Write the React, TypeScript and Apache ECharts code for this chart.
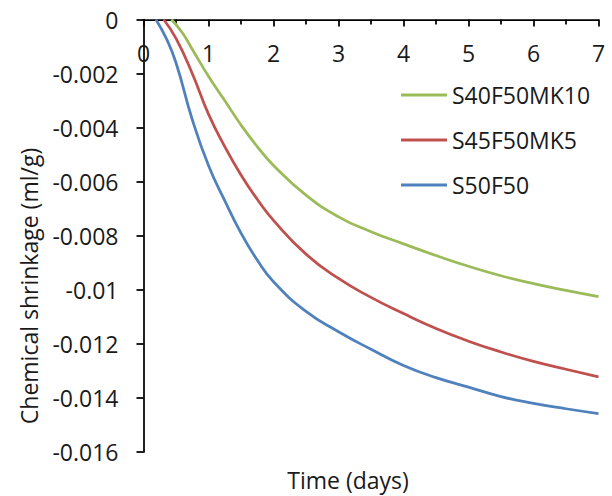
import React, { useEffect, useRef } from "react";
import * as echarts from "echarts";

const seriesNames = ["S40F50MK10", "S45F50MK5", "S50F50"];
const seriesColors = ["#9BBB59", "#C0504D", "#4F81BD"];

const greenData: [number, number][] = [
  [0.43, 0], [0.6, -0.0005], [0.75, -0.0011], [1.0, -0.0021], [1.25, -0.003],
  [1.5, -0.0039], [1.75, -0.0047], [2.0, -0.0054], [2.5, -0.0065], [3.0, -0.0073],
  [3.5, -0.00785], [4.0, -0.0083], [4.5, -0.00873], [5.0, -0.00913], [5.5, -0.00948],
  [6.0, -0.00977], [6.5, -0.01002], [7.0, -0.01025],
];
const redData: [number, number][] = [
  [0.31, 0], [0.5, -0.0007], [0.75, -0.002], [1.0, -0.0035], [1.25, -0.0047],
  [1.5, -0.00575], [1.75, -0.00665], [2.0, -0.00743], [2.5, -0.00868], [3.0, -0.00958],
  [3.5, -0.01028], [4.0, -0.01088], [4.5, -0.01143], [5.0, -0.0119], [5.5, -0.0123],
  [6.0, -0.01265], [6.5, -0.01294], [7.0, -0.01322],
];
const blueData: [number, number][] = [
  [0.19, 0], [0.35, -0.0007], [0.5, -0.0016], [0.75, -0.0037], [1.0, -0.0054],
  [1.25, -0.0067], [1.5, -0.0079], [1.75, -0.0089], [2.0, -0.0097], [2.5, -0.0108],
  [3.0, -0.01155], [3.5, -0.0122], [4.0, -0.0128], [4.5, -0.01325], [5.0, -0.0136],
  [5.5, -0.01395], [6.0, -0.0142], [6.5, -0.0144], [7.0, -0.01458],
];
const allData = [greenData, redData, blueData];

const xTitle = "Time (days)";
const yTitle = "Chemical shrinkage (ml/g)";
const FONT = "Open Sans";
const TEXT = "#1a1a1a";

export default function App() {
  const ref = useRef<HTMLDivElement>(null);
  useEffect(() => {
    if (!ref.current) return;
    const chart = echarts.init(ref.current, null, { renderer: "svg" });
    chart.setOption({
      animation: false,
      backgroundColor: "#ffffff",
      grid: { left: 143.5, right: 13.5, top: 19.5, bottom: 44, containLabel: false },
      legend: {
        data: seriesNames,
        orient: "vertical",
        left: 401,
        top: 83,
        padding: 0,
        icon: "rect",
        itemWidth: 46,
        itemHeight: 3,
        itemGap: 21,
        textStyle: { fontFamily: FONT, fontSize: 23, color: TEXT, lineHeight: 24 },
      },
      xAxis: {
        type: "value",
        min: 0,
        max: 7,
        interval: 1,
        position: "top",
        axisLine: { onZero: false, lineStyle: { color: "#000", width: 1.75 } },
        axisTick: { show: true, inside: true, length: 7, lineStyle: { color: "#000", width: 1.75 } },
        minorTick: { show: true, splitNumber: 2, length: 5, lineStyle: { color: "#000", width: 1.75 } },
        splitLine: { show: false },
        axisLabel: { inside: true, fontFamily: FONT, fontSize: 23, color: TEXT, margin: 22 },
      },
      yAxis: {
        type: "value",
        min: -0.016,
        max: 0,
        interval: 0.002,
        axisLine: { show: true, onZero: false, lineStyle: { color: "#000", width: 1.75 } },
        axisTick: { show: true, length: 7, lineStyle: { color: "#000", width: 1.75 } },
        splitLine: { show: false },
        axisLabel: {
          fontFamily: FONT,
          fontSize: 23,
          color: TEXT,
          margin: 25,
          formatter: (v: number) => (Math.abs(v) < 1e-12 ? "0" : String(+v.toFixed(3))),
        },
      },
      series: allData.map((d, i) => ({
        name: seriesNames[i],
        type: "line",
        data: d,
        smooth: 0.5,
        symbol: "none",
        color: seriesColors[i],
        lineStyle: { color: seriesColors[i], width: 2.75 },
        z: 3 - i,
      })),
      graphic: [
        {
          type: "text",
          x: 348,
          y: 480,
          style: {
            text: xTitle,
            fontFamily: FONT,
            fontSize: 23,
            fill: TEXT,
            align: "center",
            verticalAlign: "middle",
          },
        },
        {
          type: "text",
          x: 29,
          y: 286,
          rotation: Math.PI / 2,
          style: {
            text: yTitle,
            fontFamily: FONT,
            fontSize: 23,
            fill: TEXT,
            align: "center",
            verticalAlign: "middle",
          },
        },
      ],
    });
    return () => chart.dispose();
  }, []);
  return <div ref={ref} style={{ width: 612, height: 496, position: "absolute", left: 0, top: 0 }} />;
}
